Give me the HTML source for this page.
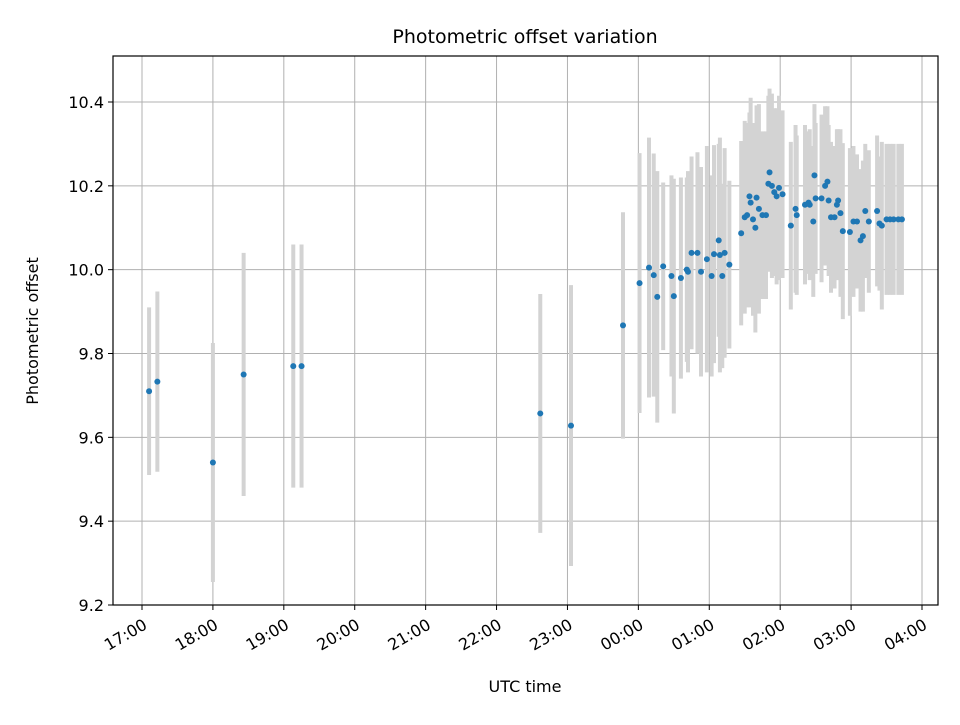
<!DOCTYPE html>
<html><head><meta charset="utf-8">
<style>body{margin:0;background:#fff}svg text{font-family:"DejaVu Sans","Liberation Sans",sans-serif;fill:#000}</style>
</head><body>
<svg id="chart" width="960" height="720" xmlns="http://www.w3.org/2000/svg">
<text x="525" y="43" font-size="19" text-anchor="middle">Photometric offset variation</text>
<text x="525" y="692" font-size="16" text-anchor="middle">UTC time</text>
<text transform="translate(38,331) rotate(-90)" font-size="16" text-anchor="middle">Photometric offset</text>
<g id="grid"></g><g id="bars"></g><g id="pts"></g>
<rect x="113" y="56" width="825" height="549" fill="none" stroke="#000" stroke-width="1.2"/>
<g id="ticks"></g>
</svg>
<script>
// minutes after 17:00
const minutes=[6,13,60,86,128,135,337,363,407,421,429,433,436,441,448,450,456,461,462,465,470,473,478,482,484,488,489,491,493,497,507,510,512,514,515,517,519,520,522,525,528,530,531,533,535,537,539,542,549,553,554,561,564,565,568,569,570,575,578,580,581,583,586,588,589,591,593,599,602,605,608,610,612,615,622,624,626,630,633,636,640,643];
const offsets=[9.71,9.733,9.54,9.75,9.77,9.77,9.657,9.628,9.867,9.968,10.005,9.987,9.935,10.008,9.985,9.937,9.98,10.0,9.995,10.04,10.04,9.995,10.025,9.985,10.037,10.07,10.035,9.985,10.04,10.012,10.087,10.125,10.13,10.175,10.16,10.12,10.1,10.172,10.145,10.13,10.13,10.205,10.232,10.2,10.185,10.175,10.195,10.18,10.105,10.145,10.13,10.155,10.16,10.155,10.115,10.225,10.17,10.17,10.2,10.21,10.165,10.125,10.125,10.155,10.165,10.135,10.092,10.09,10.115,10.115,10.07,10.08,10.14,10.115,10.14,10.11,10.105,10.12,10.12,10.12,10.12,10.12];
const errors=[0.2,0.215,0.285,0.29,0.29,0.29,0.285,0.335,0.27,0.31,0.31,0.29,0.3,0.2,0.24,0.28,0.24,0.22,0.24,0.23,0.24,0.25,0.27,0.24,0.26,0.23,0.28,0.22,0.25,0.2,0.22,0.23,0.22,0.2,0.25,0.23,0.25,0.22,0.25,0.2,0.2,0.21,0.2,0.22,0.2,0.21,0.22,0.2,0.2,0.2,0.19,0.19,0.17,0.18,0.18,0.17,0.18,0.2,0.19,0.18,0.18,0.18,0.17,0.18,0.17,0.2,0.21,0.2,0.18,0.16,0.17,0.18,0.16,0.17,0.18,0.16,0.2,0.18,0.18,0.18,0.18,0.18];
const xTickLabels=["17:00","18:00","19:00","20:00","21:00","22:00","23:00","00:00","01:00","02:00","03:00","04:00"];
const yTicks=[9.2,9.4,9.6,9.8,10.0,10.2,10.4];
const NS="http://www.w3.org/2000/svg";
const X=m=>142+m*(780/660);
const Y=v=>605-(v-9.2)*(503/1.2);
function mk(t,a,p){const e=document.createElementNS(NS,t);for(const k in a)e.setAttribute(k,a[k]);document.getElementById(p).appendChild(e);return e;}
xTickLabels.forEach((l,i)=>{const x=X(i*60);
 const g=mk('line',{x1:x,x2:x,y1:56,y2:605,stroke:'#b0b0b0','stroke-width':1},'grid');
 
 
 const t=mk('line',{x1:x,x2:x,y1:605,y2:610,stroke:'#000','stroke-width':1},'ticks');
 
 
 const tx=mk('text',{transform:`translate(${x+4},${624}) rotate(-30)`,'font-size':16,'text-anchor':'end','dominant-baseline':'middle'},'ticks');
 tx.textContent=l;
 
 
});
yTicks.forEach(v=>{const y=Y(v);
 const g=mk('line',{x1:113,x2:938,y1:y,y2:y,stroke:'#b0b0b0','stroke-width':1},'grid');
 
 
 const t=mk('line',{x1:108,x2:113,y1:y,y2:y,stroke:'#000','stroke-width':1},'ticks');
 
 
 const tx=mk('text',{x:104,y:y+6,'font-size':16,'text-anchor':'end'},'ticks');
 tx.textContent=v.toFixed(1);
 
 
});
minutes.forEach((m,i)=>{const x=X(m);
 const b=mk('line',{x1:x,x2:x,y1:Y(offsets[i]-errors[i]),y2:Y(offsets[i]+errors[i]),stroke:'#d3d3d3','stroke-width':4},'bars');
 
 
});
minutes.forEach((m,i)=>{
 const c=mk('circle',{cx:X(m),cy:Y(offsets[i]),r:3,fill:'#1f77b4'},'pts');
 
 
});
</script>
</body></html>
